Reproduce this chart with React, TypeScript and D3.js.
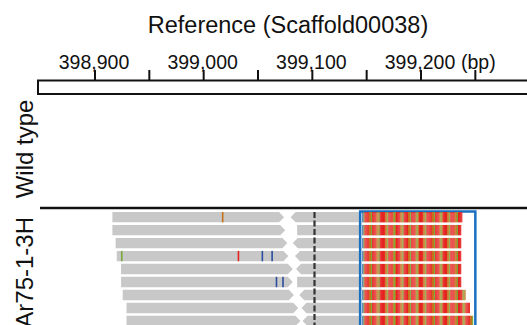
import React from 'react';
import * as d3 from 'd3';

// ruler
const tickPos = [398900, 398950, 399000, 399050, 399100, 399150, 399200, 399250];
const labelPos = [398900, 399000, 399100, 399200];

// paired reads, one row each (bp)
const fwdStart = [398916, 398916, 398919, 398920, 398924, 398924, 398925.5, 398929, 398929];
const fwdEnd = [399074, 399075, 399077, 399078, 399082, 399082, 399083, 399087, 399089];
const revStart = [399080, 399086, 399082, 399084, 399085, 399086, 399088, 399090, 399091];
const revArrow = [true, false, true, true, true, false, true, true, true];
const clipEnd = [399238, 399237, 399237, 399237, 399237, 399237, 399241, 399245, 399248];
const clipStart = 399146;
const boxRange = [399144, 399250];
const junction = 399102;

// soft-clipped sequence, per base
const clipSeq =
  'CATTTTGGATTTTGGATTTTTGGATTTTGAGTTTTGGATTTTGGATTTTGAGTTTTGGATTTTTGGATTTTGAGTTTTGGATTTTGGATTTTGAGTTTTGGATTTG';

// mismatches inside aligned reads
const mismatches = [
  { row: 0, pos: 399017.5, base: 'G' },
  { row: 3, pos: 398924.6, base: 'A' },
  { row: 3, pos: 399032, base: 'T' },
  { row: 3, pos: 399054, base: 'C' },
  { row: 3, pos: 399063, base: 'C' },
  { row: 5, pos: 399067, base: 'C' },
  { row: 5, pos: 399073, base: 'C' },
];

const BASE_COLOR: Record<string, string> = {
  T: '#e52421',
  G: '#c4721c',
  A: '#79a83b',
  C: '#2c4d9e',
};

const FONT = 'Arial, "Liberation Sans", sans-serif';
const READ = '#c8c8c8';

export default function App() {
  const W = 527;
  const H = 325;
  const x = d3.scaleLinear().domain([398900, 399200]).range([95, 421]);
  const rows = d3.range(fwdStart.length);
  const y = d3.scaleBand<number>().domain(rows).range([212, 212 + 12.68 * rows.length]).paddingInner(0.2).paddingOuter(0);
  const bh = y.bandwidth();
  const head = 5;

  const fwdPath = (i: number) => {
    const x0 = x(fwdStart[i]);
    const x1 = x(fwdEnd[i]);
    const t = y(i)!;
    return `M${x0},${t}H${x1 - head}L${x1},${t + bh / 2}L${x1 - head},${t + bh}H${x0}Z`;
  };
  const revPath = (i: number) => {
    const x0 = x(revStart[i]);
    const x1 = x(boxRange[0]);
    const t = y(i)!;
    if (!revArrow[i]) return `M${x0},${t}H${x1}V${t + bh}H${x0}Z`;
    return `M${x0},${t + bh / 2}L${x0 + head},${t}H${x1}V${t + bh}H${x0 + head}Z`;
  };
  const bpW = x(1) - x(0);

  return (
    <div style={{ position: 'fixed', left: 0, top: 0 }}>
      <svg width={W} height={H} style={{ display: 'block', background: '#fff' }} fontFamily={FONT}>
        <text x={288} y={33} textAnchor="middle" fontSize={23.5} fill="#111">
          Reference (Scaffold00038)
        </text>
        {labelPos.map((v) => (
          <text key={v} x={x(v) - 1} y={69} textAnchor="middle" fontSize={19.5} fill="#111">
            {d3.format(',')(v)}
          </text>
        ))}
        <text x={461} y={69} fontSize={19.5} fill="#111">(bp)</text>
        {tickPos.map((v) => (
          <line key={v} x1={x(v)} x2={x(v)} y1={70} y2={81} stroke="#111" strokeWidth={2} />
        ))}
        <rect x={38} y={80.5} width={W} height={13.5} fill="#fff" stroke="#111" strokeWidth={2} />

        <line x1={40} x2={W} y1={208} y2={208} stroke="#111" strokeWidth={2.5} />

        <text transform="translate(33,149) rotate(-90)" textAnchor="middle" fontSize={24} fill="#111">
          Wild type
        </text>
        <text transform="translate(33,217) rotate(-90)" textAnchor="end" fontSize={24} fill="#111">
          Ar75-1-3H
        </text>

        {rows.map((i) => (
          <g key={i}>
            <path d={fwdPath(i)} fill={READ} />
            <path d={revPath(i)} fill={READ} />
          </g>
        ))}
        {mismatches.map((m, k) => (
          <rect key={k} x={x(m.pos) - 0.8} y={y(m.row)!} width={1.6} height={bh} fill={BASE_COLOR[m.base]} />
        ))}

        <line x1={x(junction)} x2={x(junction)} y1={212} y2={H} stroke="#333" strokeWidth={2.2} strokeDasharray="6,2.5" />

        <rect x={x(boxRange[0])} y={211.5} width={x(boxRange[1]) - x(boxRange[0])} height={H} fill="#fff" stroke="#1a70c0" strokeWidth={2.5} />

        {rows.map((i) => {
          const n = Math.round(clipEnd[i] - clipStart);
          return (
            <g key={i}>
              {clipSeq.slice(0, n).split('').map((b, j) => (
                <rect key={j} x={x(clipStart + j)} y={y(i)!} width={bpW + 0.05} height={bh} fill={BASE_COLOR[b]} />
              ))}
            </g>
          );
        })}
      </svg>
    </div>
  );
}
